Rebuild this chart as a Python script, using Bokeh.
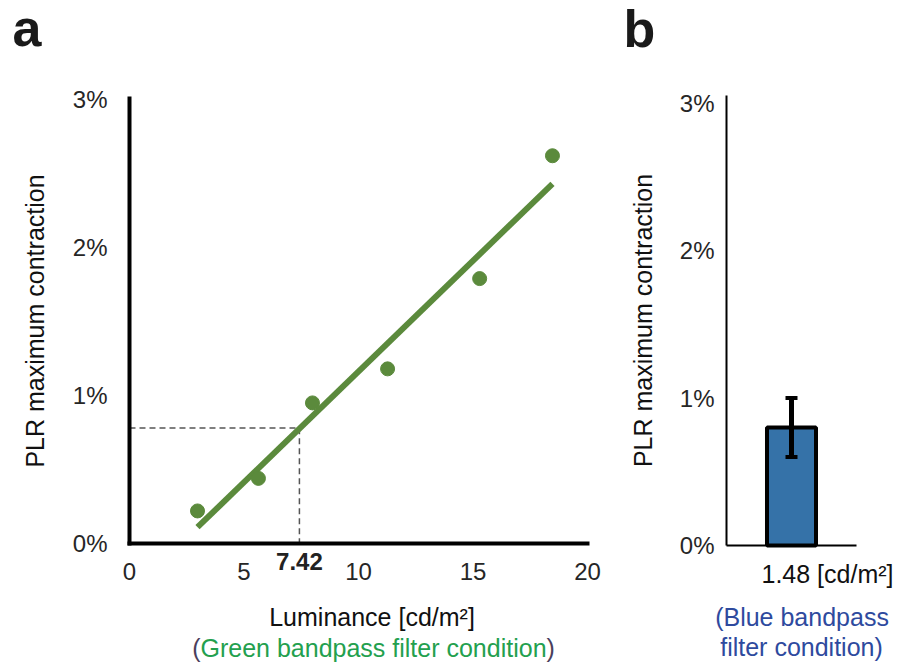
from bokeh.plotting import figure
from bokeh.layouts import row
from bokeh.models import (Range1d, FixedTicker, Label, Whisker, TeeHead,
                          ColumnDataSource, LinearAxis)
from bokeh.embed import file_html
from bokeh.resources import INLINE

# ---------------- data ----------------
# panel a: luminance vs PLR maximum contraction (green filter)
lum_x = [2.97, 5.63, 7.99, 11.27, 15.29, 18.47]
plr_y = [0.22, 0.44, 0.95, 1.18, 1.79, 2.62]
fit_x = [2.97, 18.47]
fit_y = [0.11, 2.43]
threshold_x = 7.42
threshold_y = 0.78
x_ticks = [0, 5, 10, 15, 20]
y_ticks = [0, 1, 2, 3]
y_tick_labels = ["0%", "1%", "2%", "3%"]

# panel b: blue filter condition
categories = ["1.48 [cd/m\u00b2]"]
bar_values = [0.80]
err_lower = [0.60]
err_upper = [1.00]

FONT = "Liberation Sans"
GREEN = "#5b8a3c"
TICK_COLOR = "#262626"
LABEL_COLOR = "#111111"


def style_axis(ax, width):
    ax.axis_line_width = width
    ax.axis_line_color = "black"
    ax.axis_line_cap = "square"
    ax.major_tick_line_color = None
    ax.minor_tick_line_color = None
    ax.major_tick_out = 0
    ax.major_tick_in = 0
    ax.major_label_text_font = FONT
    ax.major_label_text_font_size = "24px"
    ax.major_label_text_color = TICK_COLOR
    ax.axis_label_text_font = FONT
    ax.axis_label_text_font_size = "25px"
    ax.axis_label_text_font_style = "normal"
    ax.axis_label_text_color = LABEL_COLOR


# ---------------- panel a ----------------
# frame covers the whole canvas; axes sit at fixed data locations
pa = figure(width=620, height=664, output_backend="svg", toolbar_location=None,
            x_range=Range1d(-5.633, 21.441), y_range=Range1d(-0.8176, 3.669),
            x_axis_type=None, y_axis_type=None, min_border=0)
pa.outline_line_color = None

xa = LinearAxis(fixed_location=0, bounds=(0, 20), ticker=FixedTicker(ticks=x_ticks))
style_axis(xa, 4)
xa.major_label_standoff = 20
pa.add_layout(xa, "below")

ya = LinearAxis(fixed_location=0, bounds=(0, 3.01), ticker=FixedTicker(ticks=y_ticks))
style_axis(ya, 4)
ya.major_label_overrides = {t: s for t, s in zip(y_ticks, y_tick_labels)}
ya.major_label_standoff = 22
ya.axis_label = "PLR maximum contraction"
ya.axis_label_standoff = 21
pa.add_layout(ya, "left")

# dashed guide lines to the threshold
pa.line([0, threshold_x, threshold_x], [threshold_y, threshold_y, 0],
        line_color="#555555", line_width=1.5, line_dash="6 4")
# linear fit
pa.line(fit_x, fit_y, line_color=GREEN, line_width=6, line_cap="butt")
# measurements
pa.scatter(lum_x, plr_y, size=14, color=GREEN)

pa.add_layout(Label(x=threshold_x, y=-0.12, text=f"{threshold_x:.2f}",
                    text_font=FONT, text_font_size="24px", text_font_style="bold",
                    text_color="#222222", text_align="center", text_baseline="middle"))
pa.add_layout(Label(x=10.59, y=-0.5, text="Luminance [cd/m\u00b2]",
                    text_font=FONT, text_font_size="25px", text_color=LABEL_COLOR,
                    text_align="center", text_baseline="middle"))
pa.add_layout(Label(x=3.1, y=-0.703, text="(", text_font=FONT, text_font_size="25px",
                    text_color="#4b3f5c", text_align="right", text_baseline="middle"))
pa.add_layout(Label(x=3.1, y=-0.703, text="Green bandpass filter condition",
                    text_font=FONT, text_font_size="25px", text_color="#23a04e",
                    text_align="left", text_baseline="middle"))
pa.add_layout(Label(x=18.21, y=-0.703, text=")", text_font=FONT, text_font_size="25px",
                    text_color="#4b3f5c", text_align="left", text_baseline="middle"))
pa.add_layout(Label(x=-5.11, y=3.48, text="a", text_font=FONT, text_font_size="52px",
                    text_font_style="bold", text_color="#1a1a1a",
                    text_align="left", text_baseline="alphabetic"))

# ---------------- panel b ----------------
bar_x = list(range(len(categories)))
pb = figure(width=280, height=664, output_backend="svg", toolbar_location=None,
            x_range=Range1d(-1.3154, 0.8385), y_range=Range1d(-0.8068, 3.695),
            x_axis_type=None, y_axis_type=None, min_border=0)
pb.outline_line_color = None

xb = LinearAxis(fixed_location=0, bounds=(-0.5, 0.5), ticker=FixedTicker(ticks=[]))
style_axis(xb, 2)
xb.axis_line_cap = "butt"
pb.add_layout(xb, "below")

yb = LinearAxis(fixed_location=-0.5, bounds=(0, 3.05), ticker=FixedTicker(ticks=y_ticks))
style_axis(yb, 2)
yb.axis_line_cap = "butt"
yb.major_label_overrides = {t: s for t, s in zip(y_ticks, y_tick_labels)}
yb.major_label_standoff = 12
yb.axis_label = "PLR maximum contraction"
yb.axis_label_standoff = 20
pb.add_layout(yb, "left")

src_b = ColumnDataSource(dict(x=bar_x, top=bar_values, lower=err_lower, upper=err_upper))
pb.vbar(x="x", top="top", width=0.377, source=src_b,
        fill_color="#3572a8", line_color="black", line_width=4)
wk = Whisker(base="x", lower="lower", upper="upper", source=src_b,
             line_color="black", line_width=5, level="overlay",
             upper_head=TeeHead(size=12, line_width=4, line_color="black"),
             lower_head=TeeHead(size=12, line_width=4, line_color="black"))
pb.add_layout(wk)

pb.add_layout(Label(x=0.277, y=-0.19, text=categories[0], text_font=FONT,
                    text_font_size="25px", text_color=LABEL_COLOR,
                    text_align="center", text_baseline="middle"))
pb.add_layout(Label(x=0.081, y=-0.488, text="(Blue bandpass", text_font=FONT,
                    text_font_size="25px", text_color="#2e4a9e",
                    text_align="center", text_baseline="middle"))
pb.add_layout(Label(x=0.077, y=-0.69, text="filter condition)", text_font=FONT,
                    text_font_size="25px", text_color="#2e4a9e",
                    text_align="center", text_baseline="middle"))
pb.add_layout(Label(x=-1.292, y=3.505, text="b", text_font=FONT, text_font_size="52px",
                    text_font_style="bold", text_color="#1a1a1a",
                    text_align="left", text_baseline="alphabetic"))

layout = row(pa, pb)
open("out.html", "w").write(file_html(layout, INLINE))
